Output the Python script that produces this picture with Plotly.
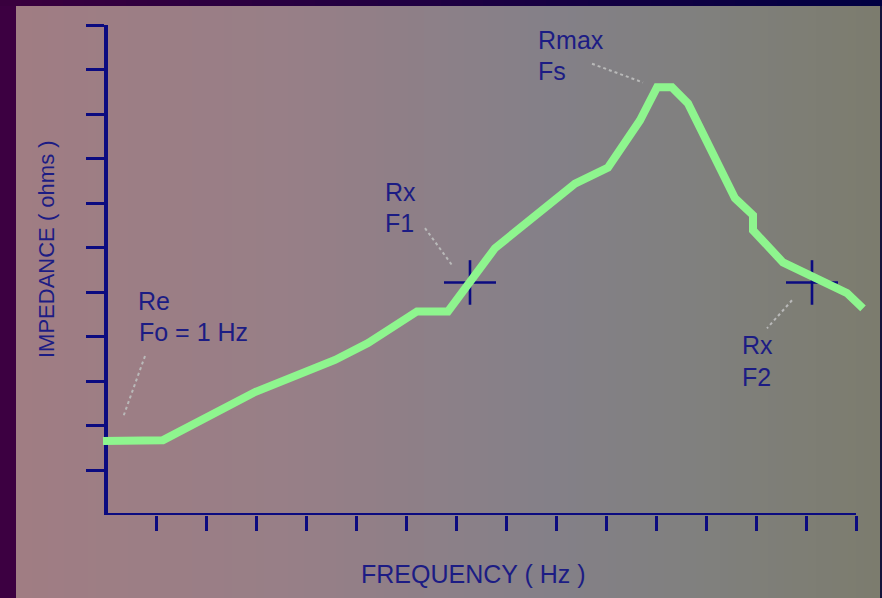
import plotly.graph_objects as go

# ---------------- data ----------------
freq = [-0.06, 1.14, 2.98, 4.58, 5.24, 6.22, 6.84, 7.78, 9.38, 10.04, 10.68,
        11.02, 11.32, 11.64, 12.58, 12.94, 12.94, 13.54, 14.82, 15.14]
impedance = [1.66, 1.68, 2.76, 3.48, 3.86, 4.57, 4.57, 5.99, 7.44, 7.80, 8.86,
             9.60, 9.60, 9.24, 7.11, 6.73, 6.39, 5.67, 4.98, 4.64]

x_ticks = list(range(1, 16))
y_ticks = list(range(1, 12))
x_max = 15
y_max = 11

# crosshair markers (Rx at F1 and F2)
cross_x = [7.28, 14.12]
cross_y = [5.22, 5.22]

# label lines: text, x (left edge), y (line centre)
label_text = ["Re", "Fo = 1 Hz", "Rx", "F1", "Rmax", "Fs", "Rx", "F2"]
label_x = [0.60, 0.62, 5.54, 5.54, 8.60, 8.60, 12.68, 12.68]
label_y = [4.80, 4.10, 7.26, 6.55, 10.67, 9.96, 3.81, 3.09]

# dotted leader lines (start, end)
leader_x = [[0.78, 0.34], [6.38, 6.92], [9.72, 10.74], [13.72, 13.22]]
leader_y = [[3.57, 2.19], [6.44, 5.61], [10.13, 9.71], [4.82, 4.19]]

# ---------------- layout geometry ----------------
W, H = 882, 598
ML, MR, MT, MB = 100, 12, 25, 83
PW = W - ML - MR
PH = H - MT - MB
x_lo = -(106 - ML) / 50.0
x_hi = x_lo + PW / 50.0

NAVY = "#0b0b80"
TEXT = "#1c1c84"
GREEN = "#8ef58e"
FONT = "Liberation Sans, Arial, sans-serif"


def px_to_paper_x(px):
    return (px - ML) / PW


def py_to_paper_y(py):
    return (H - MB - py) / PH


def lerp_col(stops, px):
    for (p0, c0), (p1, c1) in zip(stops, stops[1:]):
        if p0 <= px <= p1:
            t = (px - p0) / (p1 - p0)
            return tuple(round(a + (b - a) * t) for a, b in zip(c0, c1))
    return stops[-1][1]


bg_stops = [(16, (160, 125, 131)), (300, (151, 127, 135)), (550, (132, 128, 136)),
            (700, (128, 128, 126)), (880, (124, 124, 110))]
top_stops = [(0, (58, 0, 62)), (440, (30, 0, 66)), (882, (0, 0, 66))]

shapes = []
step = 8
for px in range(16, 880, step):
    c = lerp_col(bg_stops, px + step / 2)
    shapes.append(dict(type="rect", xref="paper", yref="paper",
                       x0=px_to_paper_x(px), x1=px_to_paper_x(min(px + step, 880)),
                       y0=py_to_paper_y(H), y1=py_to_paper_y(6),
                       fillcolor="rgb(%d,%d,%d)" % c, line=dict(width=0), layer="below"))
for px in range(0, W, 21):
    c = lerp_col(top_stops, px + 10)
    shapes.append(dict(type="rect", xref="paper", yref="paper",
                       x0=px_to_paper_x(px), x1=px_to_paper_x(min(px + 21, W)),
                       y0=py_to_paper_y(6), y1=py_to_paper_y(0),
                       fillcolor="rgb(%d,%d,%d)" % c, line=dict(width=0), layer="below"))
# right edge strip
shapes.append(dict(type="rect", xref="paper", yref="paper",
                   x0=px_to_paper_x(880), x1=px_to_paper_x(W),
                   y0=py_to_paper_y(H), y1=py_to_paper_y(6),
                   fillcolor="rgb(20,20,60)", line=dict(width=0), layer="below"))
# x axis line
shapes.append(dict(type="line", xref="x", yref="y", x0=0, x1=x_max, y0=0, y1=0,
                   line=dict(color=NAVY, width=4), layer="below"))

fig = go.Figure()

# leader lines
for lx, ly in zip(leader_x, leader_y):
    fig.add_trace(go.Scatter(x=lx, y=ly, mode="lines", hoverinfo="skip",
                             line=dict(color="#b9b9b9", width=2, dash="dot"),
                             showlegend=False))

# crosshairs
fig.add_trace(go.Scatter(
    x=cross_x, y=cross_y, mode="markers", showlegend=False, hoverinfo="skip",
    marker=dict(size=1, color=NAVY),
    error_x=dict(type="constant", value=0.52, thickness=2.6, width=0, color=NAVY),
    error_y=dict(type="constant", value=0.50, thickness=2.6, width=0, color=NAVY)))

# impedance curve
fig.add_trace(go.Scatter(x=freq, y=impedance, mode="lines", showlegend=False,
                         line=dict(color=GREEN, width=8, shape="linear")))

annotations = []
for t, ax_, ay_ in zip(label_text, label_x, label_y):
    annotations.append(dict(text=t, x=ax_, y=ay_, xref="x", yref="y",
                            xanchor="left", yanchor="middle", showarrow=False,
                            font=dict(family=FONT, size=25, color=TEXT)))
annotations.append(dict(text="IMPEDANCE ( ohms )", textangle=-90,
                        x=px_to_paper_x(46), y=py_to_paper_y(249),
                        xref="paper", yref="paper", xanchor="center", yanchor="middle",
                        showarrow=False, font=dict(family=FONT, size=22, color=TEXT)))
annotations.append(dict(text="FREQUENCY ( Hz )",
                        x=px_to_paper_x(473), y=py_to_paper_y(574),
                        xref="paper", yref="paper", xanchor="center", yanchor="middle",
                        showarrow=False, font=dict(family=FONT, size=25, color=TEXT)))

fig.update_layout(
    width=W, height=H,
    margin=dict(l=ML, r=MR, t=MT, b=MB, pad=0),
    paper_bgcolor="#3c0041",
    plot_bgcolor="rgba(0,0,0,0)",
    shapes=shapes,
    annotations=annotations,
    xaxis=dict(range=[x_lo, x_hi], showgrid=False, zeroline=False, showline=False,
               tickvals=x_ticks, ticks="outside", ticklen=15, tickwidth=3,
               tickcolor=NAVY, showticklabels=False, fixedrange=True),
    yaxis=dict(range=[0, y_max], showgrid=False, zeroline=False, showline=True,
               linecolor=NAVY, linewidth=4, anchor="free", layer="below traces",
               position=px_to_paper_x(106),
               tickvals=y_ticks, ticks="outside", ticklen=18, tickwidth=3,
               tickcolor=NAVY, showticklabels=False, fixedrange=True),
)

fig.write_html("out.html", config={"displayModeBar": False},
               post_script="document.body.style.margin='0';document.body.style.padding='0';"
                           "document.body.style.overflow='hidden';")
